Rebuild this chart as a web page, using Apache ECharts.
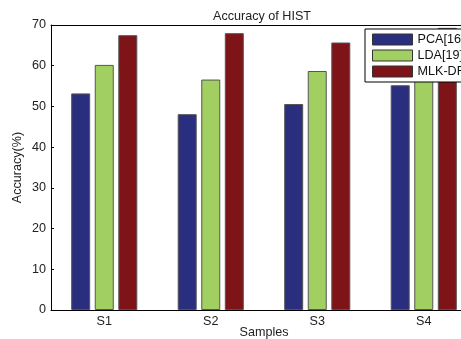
<!DOCTYPE html>
<html><head><meta charset="utf-8">
<script src="https://cdn.jsdelivr.net/npm/echarts@6/dist/echarts.min.js"></script>
<style>html,body{margin:0;padding:0;background:#fff;overflow:hidden}#c{width:461px;height:339px}</style>
</head><body><div id="c"></div>
<script>
var categories = ['S1','S2','S3','S4'];
var pca = [53.2, 48.1, 50.6, 55.2];
var lda = [60.2, 56.6, 58.7, 62.0];
var mlk = [67.5, 68.0, 65.7, 69.3];
var seriesNames = ['PCA[16]','LDA[19]','MLK-DR'];
var yTicks = [0,10,20,30,40,50,60,70];

var font = 'Liberation Sans, Arial, sans-serif';
var fs = 12.6;
var chart = echarts.init(document.getElementById('c'), null, {renderer:'canvas'});
function bar(name, data, color){
  return {name:name, type:'bar', data:data, barWidth:19, barGap:'24%',
    itemStyle:{color:color, borderColor:'#555', borderWidth:1}};
}
chart.setOption({
  animation:false,
  title:{text:'Accuracy of HIST', left:208, top:5,
    textStyle:{fontFamily:font, fontSize:fs, fontWeight:'normal', color:'#222'}},
  legend:{left:365, top:29, orient:'vertical', icon:'rect', itemWidth:40, itemHeight:11, itemGap:3,
    padding:[4,6,4,7], backgroundColor:'#fff', borderColor:'#000', borderWidth:1,
    textStyle:{fontFamily:font, fontSize:fs, color:'#111'},
    itemStyle:{borderColor:'#333', borderWidth:1},
    data:seriesNames},
  grid:{left:51, top:25, width:426, bottom:29, containLabel:false, outerBoundsMode:'none'},
  xAxis:[{type:'category', data:categories, position:'bottom',
    name:'Samples', nameLocation:'middle', nameGap:16, nameMoveOverlap:false,
    nameTextStyle:{fontFamily:font, fontSize:fs, color:'#222'},
    axisLine:{lineStyle:{color:'#000', width:1}},
    axisTick:{inside:true, alignWithLabel:true, length:3, lineStyle:{color:'#000'}},
    axisLabel:{fontFamily:font, fontSize:fs, color:'#222', margin:5}},
   {type:'category', data:categories, position:'top',
    axisLine:{lineStyle:{color:'#000', width:1}},
    axisTick:{inside:true, alignWithLabel:true, length:3, lineStyle:{color:'#000'}},
    axisLabel:{show:false}}],
  yAxis:{type:'value', min:yTicks[0], max:yTicks[yTicks.length-1], interval:10,
    name:'Accuracy(%)', nameLocation:'middle', nameGap:27, nameRotate:90, nameMoveOverlap:false,
    nameTextStyle:{fontFamily:font, fontSize:fs, color:'#222'},
    axisLine:{show:true, lineStyle:{color:'#000', width:1}},
    axisTick:{show:true, inside:true, length:3, lineStyle:{color:'#000'}},
    axisLabel:{fontFamily:font, fontSize:fs, color:'#222', margin:5},
    splitLine:{show:false}},
  series:[bar(seriesNames[0], pca, '#2a2e7e'), bar(seriesNames[1], lda, '#a2cf62'), bar(seriesNames[2], mlk, '#7e1418')]
});
</script></body></html>
